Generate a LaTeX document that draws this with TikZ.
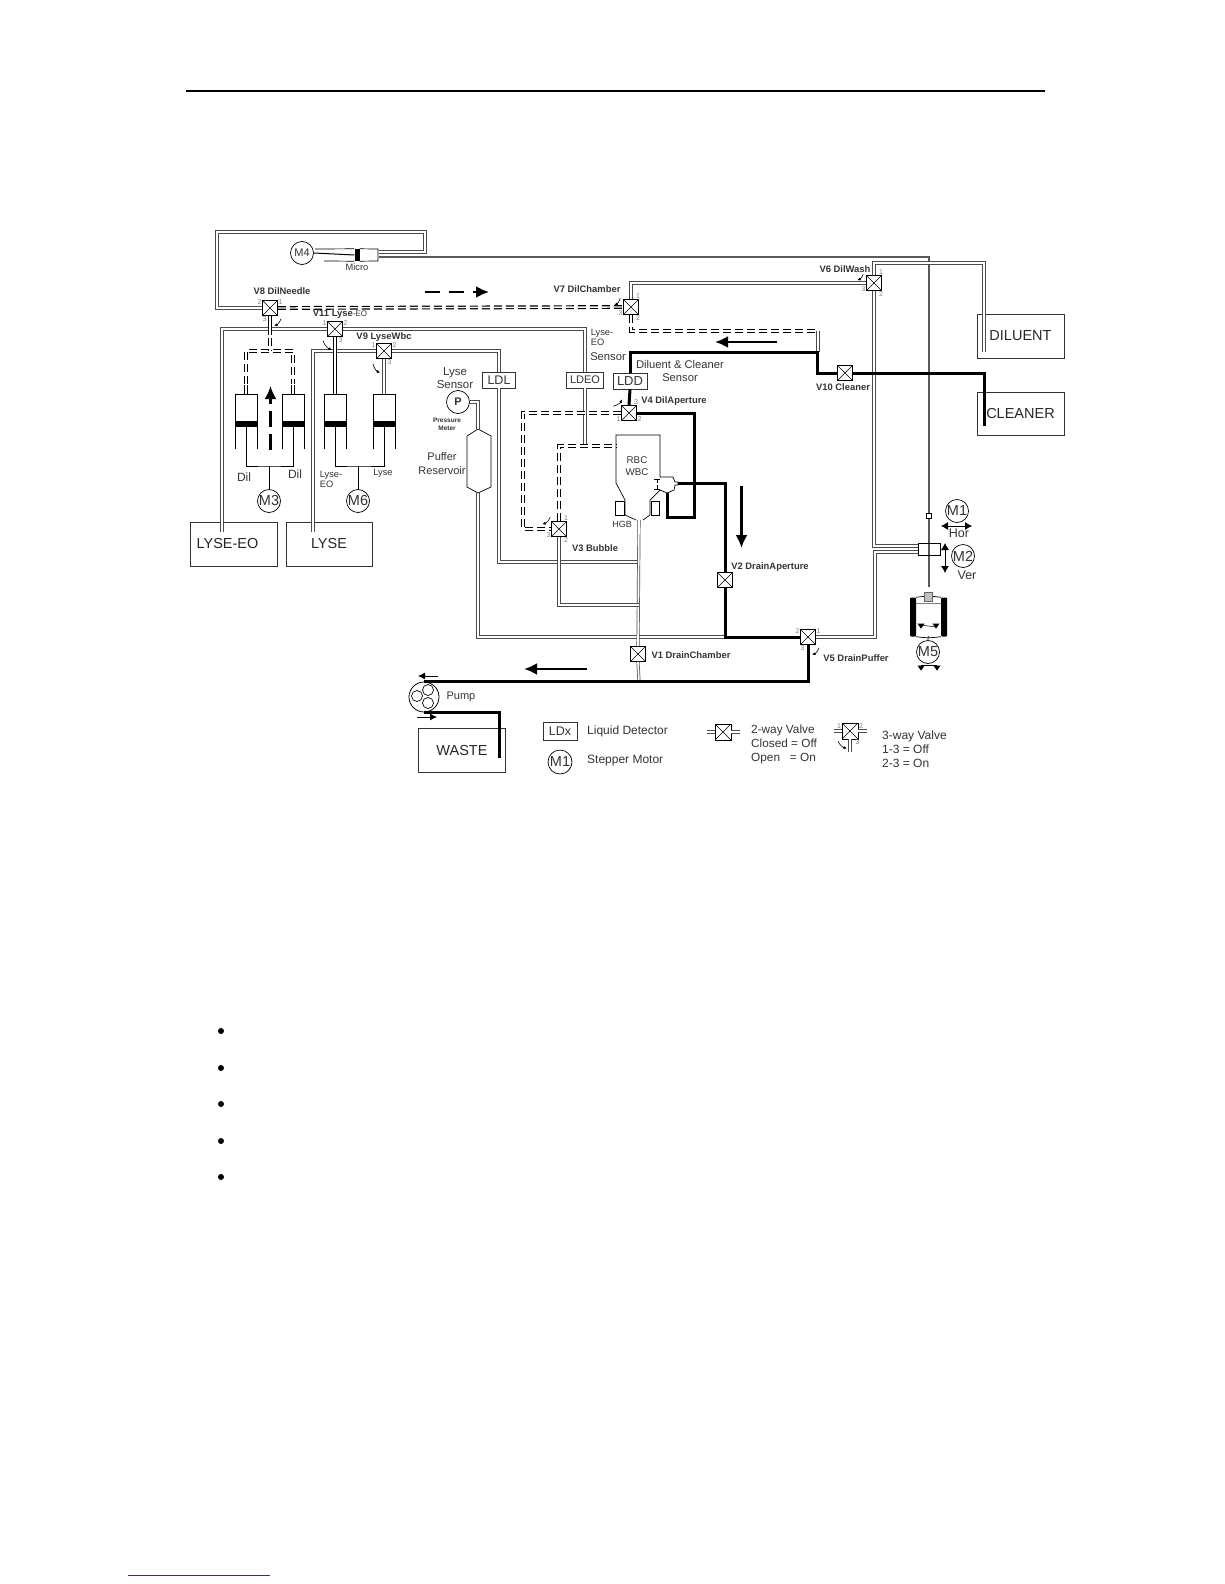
\documentclass[tikz,border=0pt]{standalone}
\usepackage{fontspec}
\setmainfont{Liberation Sans}
\usepackage{xcolor}
\usetikzlibrary{arrows.meta,shapes.geometric,positioning,calc}
\definecolor{pipecol}{gray}{0.30}
\definecolor{textcol}{gray}{0.20}
\definecolor{linkcol}{RGB}{40,50,160}
\tikzset{
  pipe/.style={draw=pipecol,double,line width=0.7pt,double distance=1.7pt},
  needlepipe/.style={draw=black!65,line width=2.2pt},
  darkpipe/.style={draw=black,double,line width=1pt,double distance=1.2pt},
  dashpipe/.style={draw=black,double,line width=1.2pt,double distance=1.4pt,dash pattern=on 8pt off 4pt},
  drain/.style={draw=black,line width=3pt,line join=miter},
  valve/.style={draw=black,line width=0.6pt,fill=white,minimum size=15pt,inner sep=0pt,
    path picture={\draw (path picture bounding box.north west)--(path picture bounding box.south east)
      (path picture bounding box.north east)--(path picture bounding box.south west);}},
  port/.style={font=\fontsize{7}{7}\selectfont,text=gray,inner sep=0.5pt,label distance=0pt},
  motor/.style={circle,draw=black,line width=0.7pt,fill=white,minimum size=23pt,inner sep=0pt,
    font=\fontsize{14.5}{15}\selectfont,text=textcol},
  tank/.style={draw=black!80,line width=0.7pt,inner sep=0pt,font=\fontsize{14.5}{16}\selectfont,text=black!85},
  detector/.style={draw=black!80,line width=0.7pt,fill=white,inner sep=0pt,minimum height=16pt,
    font=\fontsize{12.5}{13}\selectfont,text=textcol},
  vlabel/.style={font=\fontsize{9.4}{11}\bfseries\selectfont,text=textcol,inner sep=0pt},
  note/.style={font=\fontsize{11.5}{13.5}\selectfont,text=textcol,inner sep=0pt,align=center},
  smallnote/.style={font=\fontsize{9.3}{10}\selectfont,text=textcol,inner sep=0pt,align=center}
}

\begin{document}
\begin{tikzpicture}[x=1pt,y=-1pt,
  flowarrow/.style={-{Latex[length=13pt,width=12pt]},line width=2.4pt},
  slimarrow/.style={-{Latex[length=7pt,width=7pt]},line width=0.8pt},
  turnarrow/.style={-{Latex[length=3.5pt,width=3pt]},line width=0.6pt},
  rod/.style={line width=1pt},
  wall/.style={line width=0.7pt},
  piston/.style={fill=black,inner sep=0pt,minimum width=23pt,minimum height=5.5pt}
]
  \useasboundingbox (0,0) rectangle (1224,1584);

  \coordinate (ruleA) at (186,91);
  \coordinate (ruleB) at (1045,91);
  \draw[line width=1.5pt] (ruleA) -- (ruleB);
  \coordinate (linkA) at (128,1575);
  \coordinate (linkB) at (270,1575);
  \draw[linkcol,line width=0.8pt] (linkA) -- (linkB);
  \node[circle,fill=black,inner sep=0pt,minimum size=6pt] (dotA) at (221,1031) {};
  \node[circle,fill=black,inner sep=0pt,minimum size=6pt] (dotB) at (221,1068) {};
  \node[circle,fill=black,inner sep=0pt,minimum size=6pt] (dotC) at (221,1104) {};
  \node[circle,fill=black,inner sep=0pt,minimum size=6pt] (dotD) at (221,1141) {};
  \node[circle,fill=black,inner sep=0pt,minimum size=6pt] (dotE) at (221,1177) {};

  \node[tank,minimum width=87pt,minimum height=44pt] (lyseeo) at (233.5,544) {\hspace*{-12pt}LYSE-EO};
  \node[tank,minimum width=86pt,minimum height=44pt] (lyse) at (329,544) {LYSE};
  \node[tank,minimum width=87pt,minimum height=44pt] (diluent) at (1020.5,336) {DILUENT};
  \node[tank,minimum width=87pt,minimum height=43pt] (cleaner) at (1020.5,413.5) {CLEANER};
  \node[tank,minimum width=87pt,minimum height=44pt] (waste) at (462,750) {WASTE};

  \node[valve,label={[port]160:2},label={[port]20:1},label={[port]250:3}] (v8) at (270,308) {};
  \node[valve,label={[port]160:1},label={[port]20:2},label={[port]290:3}] (v11) at (335,329) {};
  \node[valve,label={[port]160:1},label={[port]20:2},label={[port]290:3}] (v9) at (384,351) {};
  \node[valve,label={[port]60:1},label={[port]300:2},label={[port]200:3}] (v7) at (631,307) {};
  \node[valve,label={[port]60:1},label={[port]300:2},label={[port]200:3}] (v6) at (874,283) {};
  \node[valve,label={[port]60:3},label={[port]200:1},label={[port]340:2}] (v4) at (629,413) {};
  \node[valve,label={[port]60:1},label={[port]300:2},label={[port]200:3}] (v3) at (559,529) {};
  \node[valve,label={[port]160:2},label={[port]20:1},label={[port]250:3}] (v5) at (808,637) {};
  \node[valve] (v10) at (845,373) {};
  \node[valve] (v2) at (725,580) {};
  \node[valve] (v1) at (638,654) {};

  \node[detector,minimum width=33pt] (ldl) at (499,380) {LDL};
  \node[detector,minimum width=37pt,font=\fontsize{11}{12}\selectfont] (ldeo) at (585,380) {LDEO};
  \node[detector,minimum width=34pt,font=\fontsize{13}{14}\selectfont] (ldd) at (630,381) {LDD};

  \node[motor,font=\fontsize{11}{12}\selectfont] (m4) at (302,253) {M4};
  \node[motor] (m3) at (269,501) {M3};
  \node[motor] (m6) at (358,501) {M6};
  \node[motor] (m1) at (957,511) {M1};
  \node[motor] (m2) at (963,556) {M2};
  \node[motor] (m5) at (928,652) {M5};
  \node[motor,font=\fontsize{11}{12}\bfseries\selectfont] (pmeter) at (458,402) {P};

  \coordinate (micA) at (379,252);
  \coordinate (micB) at (379,257);
  \coordinate (lyseeoin) at (222,532);
  \coordinate (lysein) at (313,532);
  \coordinate (dilin) at (984,352);
  \coordinate (cleanerin) at (984,426);
  \coordinate (wastein) at (499,758);
  \coordinate (neck) at (639,520);
  \coordinate (neckA) at (639,562);
  \coordinate (neckB) at (639,605);
  \coordinate (drainmid) at (639,682);
  \coordinate (drainjoin) at (725,637);
  \coordinate (washjoin) at (818,331);
  \coordinate (washend) at (818,352);
  \coordinate (lyseeojoin) at (585,445);
  \coordinate (chamberin) at (616,446);
  \coordinate (restop) at (478,429);
  \coordinate (resbot) at (478,493);
  \coordinate (needletip) at (929,587);
  \coordinate (blockA) at (918,546);
  \coordinate (blockB) at (918,552);
  \coordinate (noseout) at (678,483);
  \coordinate (nosein) at (667,493);

  \draw[needlepipe] (micB) -| (needletip);
  \draw[pipe] (v8.west) -| (217,232) -| (425,252) -- (micA);
  \draw[pipe] (v7.north) |- (v6.west);
  \draw[pipe] (v6.north) |- (984,263) -- (dilin);
  \draw[pipe] (v6.south) |- (blockA);
  \draw[pipe] (v5.east) -| (875,552) -- (blockB);
  \draw[pipe] (lyseeoin) |- (v11.west);
  \draw[pipe] (v11.east) -| (ldeo.north);
  \draw[pipe] (ldeo.south) -- (lyseeojoin);
  \draw[pipe] (lysein) |- (v9.west);
  \draw[pipe] (v9.east) -| (ldl.north);
  \draw[pipe] (ldl.south) |- (neckA);
  \draw[pipe] (pmeter.east) -| (restop);
  \draw[pipe] (resbot) |- (drainjoin);
  \draw[pipe] (neck) -- (v1.north);
  \draw[pipe] (v1.south) -- (drainmid);
  \draw[pipe] (v3.south) |- (neckB);
  \draw[pipe] (washjoin) -- (washend);

  \draw[dashpipe] (v8.east) -- (v7.west);
  \draw[dashpipe] (v7.south) |- (washjoin);
  \draw[dashpipe] (v4.west) -| (523,529) -- (v3.west);
  \draw[dashpipe] (v3.north) |- (chamberin);
  \draw[dashpipe] (246,384) -- (246,351) -- (293,351) -- (293,384);
  \draw[darkpipe] (v8.south) -- (270,335);
  \draw[dashpipe] (270,338) -- (270,351);
  \draw[darkpipe] (246,394) -- (246,385);
  \draw[darkpipe] (293,394) -- (293,385);
  \draw[darkpipe] (v11.south) -- (335,394);
  \draw[pipe] (v9.south) -- (384,394);

  \draw[wall] (235,449) -- (235,394) -- (257,394) -- (257,449);
  \draw[wall] (282,449) -- (282,394) -- (304,394) -- (304,449);
  \draw[wall] (324,449) -- (324,394) -- (346,394) -- (346,449);
  \draw[wall] (373,449) -- (373,394) -- (395,394) -- (395,449);
  \node[piston] (dilL) at (246,424) {};
  \node[piston] (dilR) at (293,424) {};
  \node[piston] (lyseL) at (335,424) {};
  \node[piston,minimum height=6.5pt] (lyseR) at (384,424) {};
  \coordinate (barA) at (269,466);
  \coordinate (barB) at (358,466);
  \draw[rod] (dilL.south) |- (barA) -| (dilR.south);
  \draw[wall] (barA) -- (m3.north);
  \draw[rod] (lyseL.south) |- (barB) -| (lyseR.south);
  \draw[wall] (barB) -- (m6.north);

  \node[piston,minimum width=5pt,minimum height=12pt] (micro) at (357,255) {};
  \draw[rod] (m4.east) -- (micro.west);
  \draw[wall] (315,249) -- (micro.north west);
  \draw[wall] (324,261) -- (micro.south west);
  \draw[wall] (micro.north east) -- (378,249) -- (378,261) -- (micro.south east);
  \node[smallnote,below=2pt of micro] (microtxt) {Micro};

  \draw[wall] (478,429) -- (491,436) -- (491,487) -- (478,493) -- (467,487) -- (467,436) -- cycle;

  \draw[wall] (616,483) -- (616,435) -- (660,435) -- (660,477) -- (673,477) -- (675,482) -- (678,482)
    -- (678,485) -- (675,485) -- (674,490) -- (667,493) -- (660,490) -- (650,500) -- (650,515) -- (643,520);
  \draw[wall] (616,483) -- (625,500) -- (625,515) -- (636,520);
  \draw[wall] (615,501) rectangle (624,515);
  \draw[wall] (651,501) rectangle (659,515);
  \draw[line width=0.6pt] (654,479) -- (660,479) (654,489) -- (660,489) (657,479) -- (657,483) (657,489) -- (657,485);

  \node[draw=black,line width=0.7pt,inner sep=0pt,minimum width=22pt,minimum height=12pt] (block) at (929,549) {};
  \node[draw=black,line width=0.7pt,fill=white,inner sep=0pt,minimum size=5pt] (clip) at (929,516) {};

  \draw[drain] (v10.west) -| (817,352) -| (ldd.north);
  \draw[drain] (ldd.south) -- (v4.north);
  \draw[drain] (v10.east) -| (cleanerin);
  \draw[drain] (v4.east) -| (694,517) -| (nosein);
  \draw[drain] (noseout) -| (v2.north);
  \draw[drain] (v2.south) |- (v5.west);
  \node[circle,draw=black,line width=0.8pt,fill=white,inner sep=0pt,minimum size=30pt] (pump) at (424,697) {};
  \draw[drain] (v5.south) |- (pump.north);
  \draw[drain] (pump.south) -| (wastein);
  \draw[line width=0.7pt] (417,696) circle (5.5pt) (428,690) circle (5.5pt) (428,703) circle (5.5pt);

  \coordinate (flowAa) at (425,292);
  \coordinate (flowAb) at (489,292);
  \draw[flowarrow,dash pattern=on 15pt off 9pt] (flowAa) -- (flowAb);
  \coordinate (flowBa) at (270.5,450);
  \coordinate (flowBb) at (270.5,386);
  \draw[flowarrow,dash pattern=on 16pt off 7pt] (flowBa) -- (flowBb);
  \coordinate (flowCa) at (777,342);
  \coordinate (flowCb) at (715,342);
  \draw[flowarrow] (flowCa) -- (flowCb);
  \coordinate (flowDa) at (741.5,486);
  \coordinate (flowDb) at (741.5,548);
  \draw[flowarrow] (flowDa) -- (flowDb);
  \coordinate (flowEa) at (587,669);
  \coordinate (flowEb) at (524,669);
  \draw[flowarrow] (flowEa) -- (flowEb);
  \coordinate (flowFa) at (438,676);
  \coordinate (flowFb) at (418,676);
  \draw[slimarrow] (flowFa) -- (flowFb);
  \coordinate (flowGa) at (417,717);
  \coordinate (flowGb) at (437,717);
  \draw[slimarrow] (flowGa) -- (flowGb);

  \draw[turnarrow] ([shift={(11,3)}]v8.south) to[bend left=25] ([shift={(4,10)}]v8.south);
  \draw[turnarrow] ([shift={(-12,4)}]v11.south) to[bend right=25] ([shift={(-3,13)}]v11.south);
  \draw[turnarrow] ([shift={(-11,5)}]v9.south) to[bend right=25] ([shift={(-4,14)}]v9.south);
  \draw[turnarrow] ([shift={(-3,-1)}]v7.north west) to[bend left=25] ([shift={(-9,6)}]v7.north west);
  \draw[turnarrow] ([shift={(-3,-1)}]v6.north west) to[bend left=25] ([shift={(-9,5)}]v6.north west);
  \draw[turnarrow] ([shift={(-8,1)}]v4.north west) to[bend right=25] ([shift={(1,-6)}]v4.north west);
  \draw[turnarrow] ([shift={(-1,-4)}]v3.north west) to[bend left=25] ([shift={(-9,3)}]v3.north west);
  \draw[turnarrow] ([shift={(11,3)}]v5.south) to[bend left=25] ([shift={(4,10)}]v5.south);

  \coordinate (m1a) at (941,526);
  \coordinate (m1b) at (972,526);
  \draw[{Latex[length=7pt,width=8pt]}-{Latex[length=7pt,width=8pt]},line width=0.8pt] (m1a) -- (m1b);
  \coordinate (m2a) at (945,543);
  \coordinate (m2b) at (945,573);
  \draw[{Latex[length=7pt,width=8pt]}-{Latex[length=7pt,width=8pt]},line width=0.8pt] (m2a) -- (m2b);
  \node[smallnote,font=\fontsize{12.5}{13}\selectfont] (hortxt) at (959,533.5) {Hor};
  \node[smallnote,font=\fontsize{12.5}{13}\selectfont] (vertxt) at (967,575.5) {Ver};

  \node[fill=black,inner sep=0pt,minimum width=6pt,minimum height=39pt,rounded corners=1pt] (vialL) at (913,617) {};
  \node[fill=black,inner sep=0pt,minimum width=6pt,minimum height=39pt,rounded corners=1pt] (vialR) at (944,617) {};
  \draw[wall] (vialL.north east) to[bend left=8] (vialR.north west);
  \draw[wall] (vialL.south east) to[bend right=8] (vialR.south west);
  \draw[gray,line width=0.5pt] (vialL.north east) ++(0,6) -- ++(25,0);
  \node[draw=black!60,fill=gray!50,inner sep=0pt,minimum width=8pt,minimum height=9pt] (vialcap) at (928,597) {};
  \draw[wall] (vialL.south east |- m5.north) ++(12,-4) -- (m5.north);
  \draw[line width=0.5pt] (921,625) -- (936,627);
  \node[isosceles triangle,isosceles triangle apex angle=70,shape border rotate=-90,fill=black,inner sep=1.5pt] (vtriA) at (921,625) {};
  \node[isosceles triangle,isosceles triangle apex angle=70,shape border rotate=-90,fill=black,inner sep=1.5pt] (vtriB) at (936,625) {};
  \draw[line width=0.5pt] (921,665) -- (937,665);
  \node[isosceles triangle,isosceles triangle apex angle=70,shape border rotate=-90,fill=black,inner sep=1.5pt] (mtriA) at (921,667) {};
  \node[isosceles triangle,isosceles triangle apex angle=70,shape border rotate=-90,fill=black,inner sep=1.5pt] (mtriB) at (937,667) {};

  \node[vlabel] (v8txt) at (282,291) {V8 DilNeedle};
  \node[vlabel] (v11txt) at (340,314) {V11 Lyse{\mdseries\fontsize{8}{9}\selectfont-EO}};
  \node[vlabel] (v9txt) at (384,337) {V9 LyseWbc};
  \node[vlabel] (v7txt) at (587,289) {V7 DilChamber};
  \node[vlabel] (v6txt) at (845,269) {V6 DilWash};
  \node[vlabel] (v10txt) at (843,387) {V10 Cleaner};
  \node[vlabel] (v4txt) at (674,401) {V4 DilAperture};
  \node[vlabel] (v3txt) at (595,548) {V3 Bubble};
  \node[vlabel] (v2txt) at (770,567) {V2 DrainAperture};
  \node[vlabel] (v1txt) at (691,655) {V1 DrainChamber};
  \node[vlabel] (v5txt) at (856,658) {V5 DrainPuffer};

  \node[note] (lysesens) at (455,378) {Lyse\\Sensor};
  \node[note,font=\fontsize{11}{13.5}\selectfont] (puffer) at (442,463.5) {Puffer\\Reservoir};
  \node[smallnote,font=\fontsize{6.5}{8}\bfseries\selectfont] (presstxt) at (447,424) {Pressure\\Meter};
  \node[note,font=\fontsize{11.2}{13}\selectfont] (dcsens) at (680,370.5) {Diluent \& Cleaner\\Sensor};
  \node[note,font=\fontsize{9.3}{10}\selectfont,align=left] (lesens) at (602,337) {Lyse-\\EO};
  \node[note,font=\fontsize{11.2}{12}\selectfont] (lesens2) at (608,357) {Sensor};
  \node[note,font=\fontsize{12}{13}\selectfont] (dilA) at (244,477) {Dil};
  \node[note,font=\fontsize{12}{13}\selectfont] (dilB) at (295,474) {Dil};
  \node[smallnote,align=left] (lyseA) at (331,479) {Lyse-\\EO};
  \node[smallnote] (lyseB) at (383,473) {Lyse};
  \node[smallnote,font=\fontsize{9.8}{11.5}\selectfont] (rbc) at (637,466) {RBC\\WBC};
  \node[smallnote,font=\fontsize{9}{11}\selectfont] (hgb) at (622,524) {HGB};
  \node[smallnote,font=\fontsize{11}{12}\selectfont,right=7pt of pump] (pumptxt) {Pump};

  \node[detector,minimum width=34pt,minimum height=18pt] (ldx) at (560,731) {LDx};
  \node[motor,minimum size=24pt] (m1key) at (560,762) {M1};
  \node[note,anchor=west,font=\fontsize{12}{13}\selectfont] (ldxtxt) at (587,731) {Liquid Detector};
  \node[note,anchor=west,font=\fontsize{12}{13}\selectfont] (m1txt) at (587,761) {Stepper Motor};

  \node[valve,minimum size=16pt] (keytwo) at (723,732) {};
  \coordinate (keytwoA) at (707,732);
  \coordinate (keytwoB) at (740,732);
  \draw[pipe] (keytwoA) -- (keytwo.west);
  \draw[pipe] (keytwo.east) -- (keytwoB);
  \node[note,anchor=north west,align=left,font=\fontsize{11.8}{14}\selectfont] (keytwotxt) at (751,724.5) {2-way Valve\\Closed = Off\\Open\ \ \ = On};

  \node[valve,minimum size=16pt,label={[port]165:1},label={[port]15:2},label={[port]-60:3}] (keythree) at (850,731) {};
  \coordinate (keythreeA) at (834,731);
  \coordinate (keythreeB) at (867,731);
  \coordinate (keythreeC) at (850,752);
  \draw[pipe] (keythreeA) -- (keythree.west);
  \draw[pipe] (keythree.east) -- (keythreeB);
  \draw[pipe] (keythree.south) -- (keythreeC);
  \draw[turnarrow] ([shift={(-12,2)}]keythree.south) to[bend right=25] ([shift={(-3,9)}]keythree.south);
  \node[note,anchor=north west,align=left,font=\fontsize{12}{14}\selectfont] (keythreetxt) at (882,730.5) {3-way Valve\\1-3 = Off\\2-3 = On};
\end{tikzpicture}
\end{document}
